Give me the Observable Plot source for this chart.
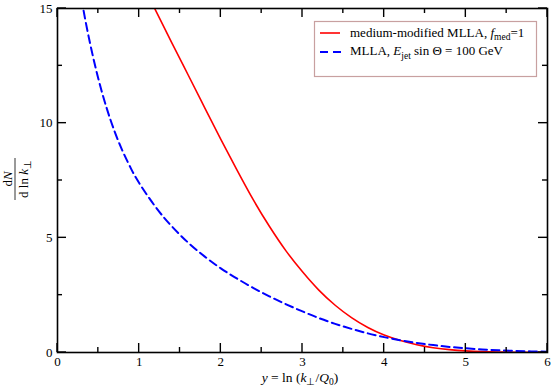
<!DOCTYPE html>
<html><head><meta charset="utf-8">
<script src="https://cdn.jsdelivr.net/npm/d3@7"></script>
<script src="https://cdn.jsdelivr.net/npm/@observablehq/plot@0.6"></script>
<style>
body{margin:0;background:#fff}
#chart{position:relative;width:554px;height:390px}
</style>
</head><body><div id="chart"></div>
<script>
// ---- data ----
const xTicks = [0, 1, 2, 3, 4, 5, 6];
const xMinorTicks = [0.5, 1.5, 2.5, 3.5, 4.5, 5.5];
const yTicks = [0, 5, 10, 15];
const yMinorTicks = [2.5, 7.5, 12.5];

const redX = [1.1, 1.2, 1.4, 1.6, 1.8, 2.0, 2.2, 2.4, 2.6, 2.8, 3.0, 3.2, 3.4, 3.6, 3.8, 4.0, 4.2, 4.4, 4.6, 4.8, 5.0, 5.2, 5.4, 5.6, 5.8, 6.0];
const redY = [15.66, 14.93, 13.5, 12.1, 10.69, 9.29, 7.94, 6.64, 5.47, 4.42, 3.52, 2.72, 2.06, 1.52, 1.09, 0.76, 0.52, 0.34, 0.21, 0.125, 0.072, 0.04, 0.022, 0.012, 0.006, 0.003];

const blueX = [0.2, 0.3, 0.4, 0.5, 0.6, 0.7, 0.8, 0.9, 1.0, 1.2, 1.4, 1.6, 1.8, 2.0, 2.2, 2.4, 2.6, 2.8, 3.0, 3.2, 3.4, 3.6, 3.8, 4.0, 4.2, 4.4, 4.6, 4.8, 5.0, 5.2, 5.4, 5.6, 5.8, 6.0];
const blueY = [17.6, 15.3, 13.46, 11.94, 10.68, 9.63, 8.76, 8.02, 7.39, 6.35, 5.5, 4.79, 4.19, 3.67, 3.22, 2.81, 2.44, 2.1, 1.79, 1.5, 1.25, 1.03, 0.835, 0.67, 0.531, 0.416, 0.322, 0.245, 0.184, 0.136, 0.098, 0.07, 0.049, 0.033];

const red = redX.map((x, i) => ({x, y: redY[i]}));
const blue = blueX.map((x, i) => ({x, y: blueY[i]}));

const FONT = "'Liberation Serif', 'Times New Roman', serif";
const RED = "#ff0000", BLUE = "#0000ff";

const plot = Plot.plot({
  width: 554, height: 390,
  marginLeft: 57, marginRight: 7, marginTop: 8, marginBottom: 38,
  style: {fontFamily: FONT, fontSize: "13px", background: "white", color: "black"},
  x: {domain: [0, 6]},
  y: {domain: [0, 15]},
  marks: [
    Plot.line(red, {x: "x", y: "y", stroke: RED, strokeWidth: 1.6, curve: "natural", clip: true}),
    Plot.line(blue, {x: "x", y: "y", stroke: BLUE, strokeWidth: 2, strokeDasharray: "8,4.5", curve: "natural", clip: true}),
    Plot.axisX(xTicks, {anchor: "bottom", tickSize: 0, tickPadding: 4, label: null, fontSize: 13}),
    Plot.axisY(yTicks, {anchor: "left", tickSize: 0, tickPadding: 5, label: null, fontSize: 13}),
    Plot.frame({stroke: "black", strokeWidth: 1.6})
  ]
});
document.getElementById("chart").appendChild(plot);

const svg = d3.select(plot);
let fx = d3.scaleLinear([0, 6], [57, 547]), fy = d3.scaleLinear([0, 15], [352, 8]);
try {
  const sx = plot.scale("x"), sy = plot.scale("y");
  if (sx && typeof sx.apply === "function" && isFinite(sx.apply(1))) {
    fx = v => sx.apply(v); fy = v => sy.apply(v);
  }
} catch (e) {}
const x0 = fx(0), x6 = fx(6), y0 = fy(0), y15 = fy(15);

// x-axis title: y = ln (k⊥/Q0)
const xt = svg.append("text").attr("x", 300).attr("y", 382).attr("text-anchor", "middle")
  .attr("font-family", FONT).attr("font-size", 13.5).attr("fill", "black");
xt.append("tspan").attr("font-style", "italic").text("y");
xt.append("tspan").text(" = ln (");
xt.append("tspan").attr("font-style", "italic").text("k");
xt.append("tspan").attr("font-size", 9.5).attr("dy", 3).text("⊥");
xt.append("tspan").attr("dy", -3).text("/");
xt.append("tspan").attr("font-style", "italic").text("Q");
xt.append("tspan").attr("font-size", 9.5).attr("dy", 3).text("0");
xt.append("tspan").attr("dy", -3).text(")");

// y-axis title: dN / d ln k⊥ (rotated fraction)
const yg = svg.append("g").attr("transform", "translate(15,179) rotate(-90)")
  .attr("font-family", FONT).attr("font-size", 13).attr("fill", "black");
const num = yg.append("text").attr("x", 0).attr("y", -3).attr("text-anchor", "middle");
num.append("tspan").text("d");
num.append("tspan").attr("font-style", "italic").text("N");
yg.append("line").attr("x1", -21).attr("x2", 21).attr("y1", 0).attr("y2", 0)
  .attr("stroke", "black").attr("stroke-width", 0.8);
const den = yg.append("text").attr("x", 0).attr("y", 13).attr("text-anchor", "middle");
den.append("tspan").text("d ln ");
den.append("tspan").attr("font-style", "italic").text("k");
den.append("tspan").attr("font-size", 9.5).attr("dy", 3).text("⊥");

// legend
const lg = svg.append("g").attr("font-family", FONT).attr("font-size", 13).attr("fill", "black")
  .attr("text-anchor", "start");
lg.append("rect").attr("x", 314.5).attr("y", 21.5).attr("width", 222).attr("height", 55)
  .attr("fill", "white").attr("stroke", "#c8a0a0").attr("stroke-width", 1.2);
lg.append("line").attr("x1", 320).attr("x2", 340).attr("y1", 33).attr("y2", 33)
  .attr("stroke", RED).attr("stroke-width", 1.6);
lg.append("line").attr("x1", 320).attr("x2", 342).attr("y1", 52).attr("y2", 52)
  .attr("stroke", BLUE).attr("stroke-width", 2).attr("stroke-dasharray", "8,5");
const t1 = lg.append("text").attr("x", 350).attr("y", 37).attr("text-anchor", "start");
t1.append("tspan").text("medium-modified MLLA, ");
t1.append("tspan").attr("font-style", "italic").text("f");
t1.append("tspan").attr("font-size", 9.5).attr("dy", 3).text("med");
t1.append("tspan").attr("dy", -3).text("=1");
const t2 = lg.append("text").attr("x", 350).attr("y", 55).attr("text-anchor", "start");
t2.append("tspan").text("MLLA, ");
t2.append("tspan").attr("font-style", "italic").text("E");
t2.append("tspan").attr("font-size", 9.5).attr("dy", 4).text("jet");
t2.append("tspan").attr("dy", -4).text(" sin Θ = 100 GeV");

// inward ticks on all four sides, positioned through Plot's scales
const tickLine = (a, b, c, d) => svg.append("line")
  .attr("x1", a).attr("y1", b).attr("x2", c).attr("y2", d)
  .attr("stroke", "#000000").attr("stroke-width", 1.4);
const ticksX = (vals, len) => vals.forEach(v => {
  const px = fx(v);
  tickLine(px, y0, px, y0 - len);
  tickLine(px, y15, px, y15 + len);
});
const ticksY = (vals, len) => vals.forEach(v => {
  const py = fy(v);
  tickLine(x0, py, x0 + len, py);
  tickLine(x6, py, x6 - len, py);
});
ticksX(xTicks, 9); ticksX(xMinorTicks, 5);
ticksY(yTicks, 9); ticksY(yMinorTicks, 5);
</script>
</body></html>
